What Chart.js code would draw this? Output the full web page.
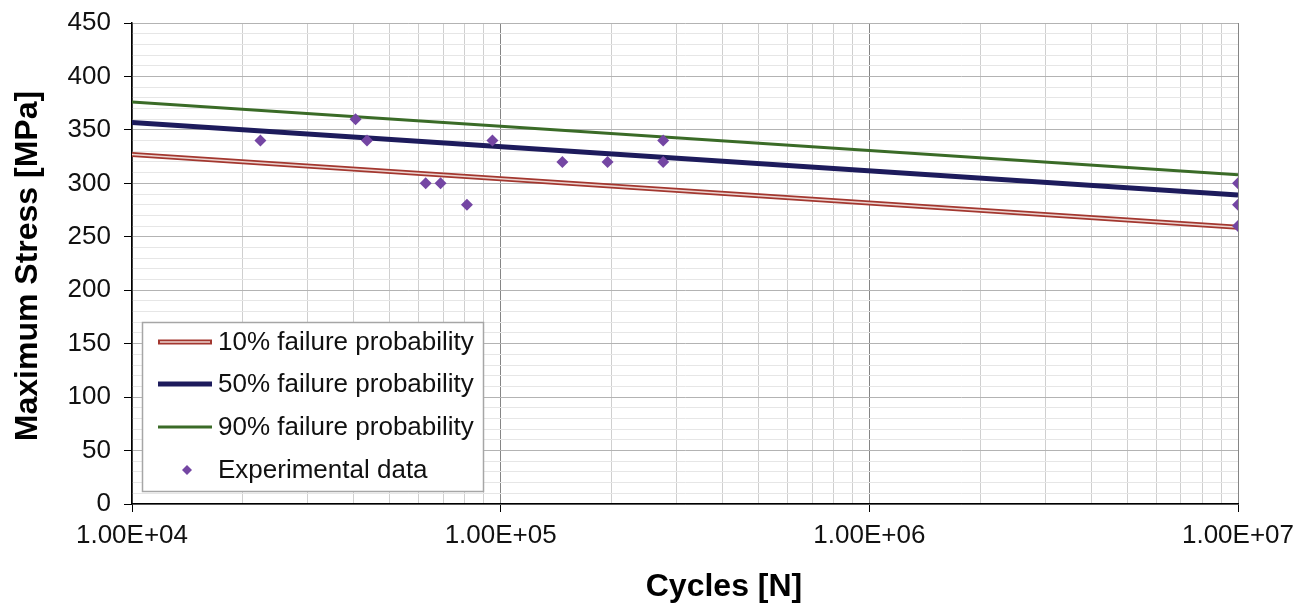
<!DOCTYPE html>
<html>
<head>
<meta charset="utf-8">
<script src="https://cdn.jsdelivr.net/npm/chart.js@4"></script>
<style>
  html, body { margin: 0; padding: 0; background: #fff; }
  #wrap { width: 1315px; height: 608px; position: relative; }
</style>
</head>
<body>
<div id="wrap"><canvas id="snChart"></canvas></div>
<script>
// Dane – krzywe S-N (proste na osi log) i punkty z badań
const lineCycles = [1e4, 1e7];
const p10 = [327, 259];
const p50 = [357, 289];
const p90 = [376, 308];

const expCycles = [22300, 40400, 43400, 62600, 68700, 81000, 95000, 147000, 195000, 276000, 276000, 1e7, 1e7, 1e7];
const expStress = [340, 360, 340, 300, 300, 280, 340, 320, 320, 340, 320, 300, 280, 260];

const legendLabels = ['10% failure probability', '50% failure probability', '90% failure probability', 'Experimental data'];
const xTitle = 'Cycles [N]';
const yTitle = 'Maximum Stress [MPa]';

const red = '#a3372f', navy = '#1d1b5c', green = '#3a6b27', purple = '#7446a3';
const FONT = '"Liberation Sans", Arial, sans-serif';

const toXY = (xs, ys) => xs.map((x, i) => ({ x: x, y: ys[i] }));
const isDecade = v => Math.abs(Math.log10(v) - Math.round(Math.log10(v))) < 1e-9;

// Legenda + tytuły osi rysowane ręcznie
const extras = {
  id: 'extras',
  afterDraw(chart) {
    const c = chart.ctx;
    c.save();
    c.fillStyle = '#000';
    c.textAlign = 'center';
    c.textBaseline = 'middle';
    c.font = 'bold 32px ' + FONT;
    c.fillText(xTitle, 724, 587);
    c.save();
    c.translate(28, 266);
    c.rotate(-Math.PI / 2);
    c.fillText(yTitle, 0, 0);
    c.restore();

    // ramka legendy
    c.fillStyle = '#fff';
    c.fillRect(142, 322, 341, 169);
    c.strokeStyle = '#a6a6a6';
    c.lineWidth = 1.5;
    c.strokeRect(142.5, 322.5, 341, 169);

    const rows = [342, 384, 427, 470];
    c.lineCap = 'butt';
    // 10% – podwójna linia
    c.strokeStyle = red; c.lineWidth = 5;
    c.beginPath(); c.moveTo(158, rows[0]); c.lineTo(212, rows[0]); c.stroke();
    c.strokeStyle = '#ecd6d2'; c.lineWidth = 1.5;
    c.beginPath(); c.moveTo(160, rows[0]); c.lineTo(210, rows[0]); c.stroke();
    c.strokeStyle = navy; c.lineWidth = 5;
    c.beginPath(); c.moveTo(158, rows[1]); c.lineTo(212, rows[1]); c.stroke();
    c.strokeStyle = green; c.lineWidth = 3;
    c.beginPath(); c.moveTo(158, rows[2]); c.lineTo(212, rows[2]); c.stroke();
    c.fillStyle = purple;
    c.beginPath();
    c.moveTo(187, rows[3] - 5); c.lineTo(192, rows[3]); c.lineTo(187, rows[3] + 5); c.lineTo(182, rows[3]);
    c.closePath(); c.fill();

    c.fillStyle = '#111';
    c.textAlign = 'left';
    c.font = '26px ' + FONT;
    legendLabels.forEach((t, i) => c.fillText(t, 218, rows[i] + 1));
    c.restore();
  }
};

new Chart(document.getElementById('snChart'), {
  type: 'scatter',
  data: {
    datasets: [
      { label: legendLabels[3], data: toXY(expCycles, expStress), order: 0,
        pointStyle: 'rectRot', pointRadius: 6, pointHoverRadius: 6,
        backgroundColor: purple, borderColor: purple, borderWidth: 0 },
      { label: '', data: toXY(lineCycles, p10), order: 1, showLine: true,
        borderColor: '#ecd6d2', borderWidth: 1.5, pointRadius: 0 },
      { label: legendLabels[0], data: toXY(lineCycles, p10), order: 2, showLine: true,
        borderColor: red, borderWidth: 5, pointRadius: 0 },
      { label: legendLabels[1], data: toXY(lineCycles, p50), order: 3, showLine: true,
        borderColor: navy, borderWidth: 5, pointRadius: 0 },
      { label: legendLabels[2], data: toXY(lineCycles, p90), order: 4, showLine: true,
        borderColor: green, borderWidth: 3, pointRadius: 0 }
    ]
  },
  options: {
    responsive: true,
    maintainAspectRatio: false,
    animation: false,
    layout: { padding: { top: 23, right: 77, left: 0, bottom: 0 } },
    plugins: { legend: { display: false }, tooltip: { enabled: false } },
    scales: {
      x: {
        type: 'logarithmic',
        min: 1e4, max: 1e7,
        afterFit(s) { s.height = 104; },
        afterBuildTicks(s) {
          const t = [];
          for (let e = 4; e <= 7; e++) {
            for (let m = 1; m <= 9; m++) {
              const v = m * Math.pow(10, e);
              if (v <= 1e7) t.push({ value: v });
            }
          }
          s.ticks = t;
        },
        border: { color: '#000', width: 1.5 },
        grid: {
          color: ctx => isDecade(ctx.tick.value) ? '#858585' : '#cfcfcf',
          tickColor: ctx => isDecade(ctx.tick.value) ? '#000' : 'rgba(0,0,0,0)',
          tickLength: 8
        },
        ticks: {
          autoSkip: false, maxRotation: 0, padding: 8,
          color: '#111', font: { family: FONT, size: 26 },
          callback: v => isDecade(v) ? '1.00E+' + String(Math.round(Math.log10(v))).padStart(2, '0') : ''
        }
      },
      y: {
        min: 0, max: 450,
        afterFit(s) { s.width = 132; },
        border: { color: '#000', width: 1.5 },
        grid: {
          color: ctx => ctx.tick.value % 50 === 0 ? '#b3b3b3' : '#e6e6e6',
          tickColor: ctx => ctx.tick.value % 50 === 0 ? '#000' : 'rgba(0,0,0,0)',
          tickLength: 8
        },
        ticks: {
          stepSize: 10, autoSkip: false, padding: 13,
          color: '#111', font: { family: FONT, size: 26, lineHeight: 0.7 },
          callback: v => v % 50 === 0 ? String(v) : ''
        }
      }
    }
  },
  plugins: [extras]
});
</script>
</body>
</html>
